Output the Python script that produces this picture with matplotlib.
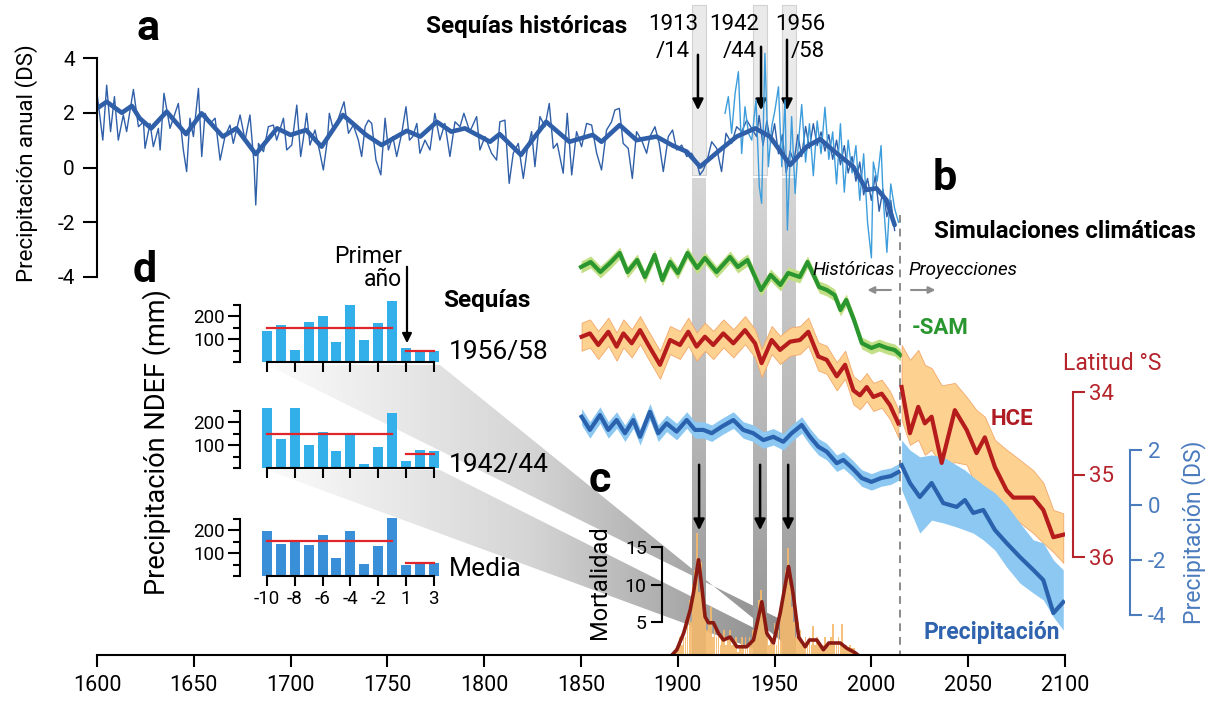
import numpy as np
import matplotlib
matplotlib.use('Agg')
import matplotlib.pyplot as plt
from matplotlib.patches import Polygon, Rectangle
from matplotlib.colors import LinearSegmentedColormap

plt.rcParams['font.family'] = ['Roboto', 'DejaVu Sans']
plt.rcParams['axes.unicode_minus'] = False

# ---------------- DATA ----------------
# Panel a: annual precipitation reconstruction (DS)
recon_year = [1600.0, 1603.0, 1605.0, 1607.0, 1609.0, 1611.0, 1613.6, 1615.3, 1618.8, 1621.4, 1624.0, 1624.8,
              1627.4, 1629.1, 1631.7, 1632.6, 1634.6, 1637.7, 1642.0, 1644.6, 1646.3, 1648.0, 1649.8, 1652.4,
              1654.1, 1655.8, 1658.4, 1661.0, 1663.6, 1666.1, 1668.7, 1670.4, 1673.9, 1676.5, 1679.0, 1681.1,
              1682.0, 1683.4, 1686.0, 1688.5, 1691.1, 1692.8, 1696.3, 1698.0, 1700.6, 1703.2, 1705.2, 1706.6,
              1708.3, 1710.0, 1712.6, 1715.2, 1716.9, 1719.0, 1720.0, 1722.1, 1724.7, 1727.6, 1729.9, 1732.4,
              1735.0, 1736.7, 1738.5, 1740.2, 1741.9, 1744.1, 1746.6, 1748.8, 1750.5, 1752.8, 1754.8, 1757.4,
              1759.6, 1761.4, 1763.1, 1765.2, 1766.8, 1769.4, 1772.0, 1774.5, 1777.1, 1779.7, 1782.3, 1784.9,
              1787.5, 1789.5, 1792.6, 1796.1, 1797.8, 1800.4, 1803.8, 1806.4, 1808.1, 1810.7, 1812.9, 1815.0,
              1817.6, 1820.2, 1822.2, 1824.5, 1826.2, 1828.8, 1831.4, 1833.6, 1835.7, 1837.7, 1840.8, 1842.9,
              1845.2, 1847.7, 1850.3, 1852.9, 1855.5, 1858.1, 1860.6, 1863.2, 1865.8, 1867.5, 1869.8, 1871.8,
              1874.4, 1876.5, 1878.7, 1881.3, 1883.9, 1885.6, 1888.2, 1890.4, 1892.5, 1895.1, 1897.3, 1899.4,
              1902.0, 1904.6, 1907.1, 1909.7, 1911.4, 1913.2, 1915.2, 1917.5, 1920.1, 1922.6, 1924.9, 1927.8,
              1930.4, 1933.0, 1935.6, 1938.1, 1940.7, 1942, 1944, 1946, 1948, 1950, 1952, 1954, 1956, 1958,
              1960, 1962, 1964, 1966, 1968, 1970, 1972, 1974, 1976, 1978, 1980, 1982, 1984, 1986, 1988, 1990,
              1992, 1994, 1996, 1998, 2000, 2002, 2004, 2006, 2008, 2010, 2012]
recon_val = [2.71, 1.00, 3.01, 1.31, 2.59, 1.00, 1.92, 1.31, 2.85, 1.49, 1.67, 0.70,
             1.61, 0.76, 1.43, 0.64, 2.71, 1.43, 2.34, 0.64, -0.15, 1.80, 1.13, 2.89,
             0.40, 1.98, 1.61, 1.80, 0.27, 1.13, 1.55, 0.88, 1.92, 1.00, 1.92, 0.15,
             -1.37, 0.88, 0.58, 1.49, 1.55, 1.00, 1.80, 0.64, 0.82, 2.28, 0.40, 1.06,
             1.98, 0.82, 1.37, 0.52, -0.09, 1.00, 1.98, 1.37, 1.80, 2.40, 1.25, 1.55,
             1.00, 0.40, 1.49, 1.73, 1.61, 0.27, -0.27, 1.80, 0.64, 1.13, 0.40, 1.25,
             2.22, 1.00, 1.13, 1.61, 0.52, 1.00, 0.64, 1.98, 1.00, 1.61, 0.40, 1.67,
             1.49, 1.98, 1.31, 1.86, 0.64, 1.13, 0.52, 0.27, 1.67, 1.73, -0.58, 0.52,
             0.88, -0.40, 0.64, 1.31, 0.03, 1.86, 1.49, 2.34, 0.70, 0.88, -0.21, 1.98,
             -0.27, 1.31, 0.76, 1.61, 1.55, 0.52, -0.09, 1.37, 1.67, 2.10, 2.16, 0.88,
             0.70, -0.40, 1.31, 1.00, 0.52, 1.13, 1.49, 0.88, -0.15, 1.13, 1.37, 0.64,
             0.82, 0.40, 0.52, 0.21, -0.27, -0.09, 0.27, 0.94, 0.70, -0.15, 1.25, 0.88,
             1.49, 1.31, 1.73, 1.43, 1.13, 1.9, 0.8, 1.7, 0.9, 1.6, 0.5, 1.2, -0.2, 0.6,
             0.2, 1.2, 0.4, 1.5, 0.7, 1.6, 0.8, 1.3, 0.6, 1.2, 0.3, 1.0, 0.1, 0.8, -0.2, 0.4,
             -0.5, 0.2, -1.0, -0.4, -1.2, -0.3, -1.6, -0.8, -1.8, -1.2, -2.3]

smooth_year = [1600, 1605, 1612.8, 1618, 1622, 1628, 1636, 1646, 1654, 1665, 1672, 1682, 1693, 1700,
               1708, 1716, 1727, 1739, 1747, 1760, 1767, 1775.5, 1783, 1790, 1803, 1808, 1819, 1832,
               1844, 1856, 1860.6, 1870, 1878.7, 1889, 1897.7, 1904.6, 1911.5, 1921.8, 1930.4, 1940,
               1947.6, 1958, 1966.6, 1973.5, 1980, 1990.6, 1997.5, 2002.6, 2007.8, 2012]
smooth_val = [2.16, 2.40, 2.00, 2.25, 1.80, 1.43, 2.04, 1.22, 1.98, 1.13, 1.43, 0.49, 1.43, 1.19,
              1.37, 0.76, 1.92, 1.19, 0.82, 1.34, 1.13, 1.67, 1.31, 1.43, 0.94, 1.22, 0.46, 1.67,
              0.94, 1.19, 0.94, 1.55, 1.00, 1.13, 0.79, 0.58, 0.03, 0.64, 1.13, 1.43,
              1.13, 0.09, 0.76, 1.04, 0.64, 0.03, -0.82, -0.76, -1.19, -2.10]

instr_year = [1924.4, 1926.1, 1927.8, 1929.6, 1931.3, 1933.0, 1934.7, 1936.5, 1938.2, 1940.4, 1942.1, 1943.3,
              1945.0, 1946.8, 1948.5, 1950.2, 1952.0, 1953.7, 1955.4, 1956.6, 1958.8, 1960.6, 1962.3, 1964,
              1966, 1968, 1970, 1972, 1974, 1976, 1978, 1980, 1982, 1984, 1986, 1988, 1990, 1992, 1994,
              1996, 1998, 2000, 2001, 2003, 2005, 2006, 2008, 2010, 2012, 2014]
instr_val = [1.98, 2.59, 1.25, 2.71, 3.50, 0.51, 2.22, 1.25, 1.00, 2.47, -0.70, -1.31,
             4.17, 0.03, 1.49, 2.10, 2.95, 0.03, 2.47, -2.29, 1.86, -0.95, 0.88, 2.3,
             0.2, 1.6, -0.3, 1.7, 0.5, 2.2, 0.3, 1.3, -0.6, 1.6, -0.9, 1.0, -0.2, 0.8, -1.2,
             0.5, -2.0, -3.3, 0.2, -0.5, 0.8, -1.0, -3.1, -0.6, -1.5, -2.0]

drought_years = [1911, 1942.4, 1957.4]
drought_arrow = [1910.4, 1943.0, 1956.4]
drought_labels = [("1913", "/14"), ("1942", "/44"), ("1956", "/58")]

# Panel b: climate simulations (historical 1850-2014, projections 2015-2100)
sam_year = [1850, 1855, 1860, 1865, 1870, 1874, 1879, 1883, 1888, 1892, 1896, 1900, 1905, 1910, 1914,
            1920, 1927, 1931, 1936, 1943, 1948, 1953, 1957, 1963, 1967, 1973, 1977, 1981, 1984, 1987,
            1991, 1995, 2000, 2004, 2008, 2012, 2015]
sam_val = [1.32, 1.52, 1.12, 1.48, 1.88, 1.12, 1.60, 0.92, 1.80, 0.80, 1.52, 1.08, 1.88, 1.28, 1.68,
           1.12, 1.72, 1.32, 1.60, 0.40, 1.00, 0.60, 1.08, 0.92, 1.52, 0.52, 0.40, 0.20, -0.40, 0.00,
           -0.80, -1.72, -1.92, -1.80, -1.92, -2.00, -2.20]
sam_spread = 0.24

hce_year = [1850.3, 1854.6, 1858.9, 1864.1, 1868.4, 1871.9, 1876.2, 1880.5, 1884.8, 1890.8, 1896.0,
            1901.1, 1905.4, 1909.7, 1914.0, 1918.3, 1923.5, 1928.7, 1934.7, 1939.9, 1943.3, 1948.5,
            1952.8, 1958.0, 1963.1, 1967.4, 1972.6, 1976.9, 1982.1, 1986.4, 1990.7, 1994.1, 1997.6,
            2001.0, 2005.3, 2009.6, 2013.9]
hce_lat = [33.33, 33.29, 33.43, 33.27, 33.45, 33.29, 33.41, 33.25, 33.43, 33.67, 33.37,
           33.43, 33.27, 33.45, 33.33, 33.43, 33.29, 33.41, 33.25, 33.41, 33.65, 33.37,
           33.49, 33.39, 33.37, 33.27, 33.57, 33.61, 33.81, 33.67, 33.98, 34.04, 33.94,
           34.06, 34.02, 34.16, 34.38]
hce_spread = 0.17

hce_proj_year = [2015.6, 2019.9, 2024.2, 2027.6, 2031.1, 2036.3, 2043.1, 2049.2, 2054.3, 2058.6,
                 2063.8, 2069.8, 2073.3, 2083.6, 2088.8, 2094.0, 2099.1]
hce_proj_lat = [33.94, 34.50, 34.18, 34.38, 34.30, 34.86, 34.22, 34.46, 34.74, 34.55,
                34.91, 35.19, 35.28, 35.28, 35.43, 35.76, 35.73]
hce_proj_hi = [33.43, 33.61, 33.49, 33.67, 33.71, 33.92, 33.89, 34.06, 34.22, 34.30,
               34.58, 34.70, 34.76, 34.95, 35.10, 35.43, 35.47]
hce_proj_lo = [34.34, 34.64, 34.58, 34.76, 34.70, 34.91, 34.85, 34.88, 35.16, 35.19,
               35.31, 35.45, 35.52, 35.71, 35.83, 35.94, 36.07]

pr_year = [1850.3, 1854.6, 1859.8, 1864.1, 1868.4, 1872.7, 1877.0, 1880.5, 1885.6, 1889.9, 1894.2,
           1899.4, 1904.6, 1908.9, 1913.2, 1917.5, 1922.7, 1928.7, 1933.8, 1939.0, 1944.2, 1949.3,
           1954.5, 1958.8, 1964.0, 1968.3, 1972.6, 1976.9, 1982.1, 1985.5, 1990, 1995, 2000, 2005,
           2010, 2014]
pr_val = [3.21, 2.73, 3.27, 2.73, 3.09, 2.61, 3.09, 2.48, 3.39, 2.61, 2.97,
          2.67, 3.09, 2.73, 2.73, 2.61, 2.85, 3.09, 2.73, 2.61, 2.36, 2.48,
          2.30, 2.61, 2.91, 2.48, 2.12, 1.94, 1.52, 1.64, 1.35, 0.98, 0.84, 0.98,
          1.05, 1.20]
pr_spread = 0.3

pr_proj_year = [2015.6, 2019.9, 2025.0, 2031.1, 2037.1, 2044.0, 2048.3, 2052.6, 2057.8, 2063.8,
                2069.8, 2076.7, 2083.6, 2088.8, 2094.0, 2099.1]
pr_proj_val = [1.45, 0.80, 0.29, 0.80, 0.07, -0.07, 0.18, -0.29, -0.18, -0.91,
               -1.38, -1.89, -2.36, -2.73, -3.93, -3.53]
pr_proj_hi = [2.36, 2.00, 1.75, 1.82, 1.75, 1.45, 1.27, 1.02, 0.73, 0.44,
              0.00, -0.65, -1.27, -1.38, -2.00, -2.36]
pr_proj_lo = [0.55, -0.18, -1.02, -0.55, -0.65, -0.80, -0.91, -1.02, -1.27, -1.64,
              -2.25, -2.84, -3.20, -3.45, -4.07, -4.55]

# Panel c: tree mortality
mort_bar_year = list(range(1899, 1993))
mort_bar_val = [1.5, 2, 3, 2, 4, 3, 6, 8, 5, 10, 12, 16.9, 9, 13, 7, 6, 4, 5, 7, 3, 5, 3, 4, 2, 3, 4, 2,
                3, 4, 2, 2, 3, 1, 2, 3, 2, 3, 2, 3, 2, 4, 3, 5, 8, 9.3, 6, 4, 3, 2, 3, 2, 4.9, 2, 4, 6,
                7, 10, 12, 14.9, 10, 7, 5, 3, 5, 4, 2, 2, 3, 2, 3, 2, 4.5, 2, 3, 2, 1.5, 2, 3, 2, 2, 3,
                4.8, 2, 2, 3, 2, 4.8, 2, 2, 1.5, 2, 1.5, 1.5, 1]
mort_year = [1897, 1899.5, 1903, 1906.4, 1908.1, 1910.7, 1912.4, 1914.1, 1915.8, 1918.4, 1921, 1923.6,
             1927, 1930.5, 1935.6, 1939.1, 1943.4, 1946, 1949.4, 1952.9, 1957.2, 1959.8, 1962.4,
             1965.8, 1968, 1971.8, 1975.2, 1978, 1980.4, 1983.9, 1987.3, 1991.6, 1993]
mort_val = [0.6, 1.3, 3.5, 6.6, 8.9, 13.3, 9.7, 5.7, 4.9, 4.9, 3.5, 2.6,
            3.0, 1.7, 1.7, 2.6, 7.7, 3.5, 2.2, 6.2, 12.4, 8.4, 3.0,
            1.7, 2.6, 2.6, 1.3, 2.2, 2.2, 2.2, 1.5, 0.9, 0.6]

# Panel d: NDEF precipitation (mm) around droughts
d_ticklabels = ["-10", "-8", "-6", "-4", "-2", "1", "3"]
d_names = ["1956/58", "1942/44", "Media"]
d_bars = [
    [135, 159, 54, 174, 199, 87, 249, 94, 171, 271, 61, 54, 46],
    [261, 128, 261, 101, 155, 75, 148, 19, 91, 239, 29, 78, 72],
    [194, 141, 155, 136, 177, 80, 194, 54, 129, 254, 46, 62, 58],
]
d_pre_mean = [149, 149, 152]
d_post_mean = [48, 59, 55]

# ---------------- FIGURE ----------------
W, H = 1217, 702
fig = plt.figure(figsize=(W / 100, H / 100), dpi=100)
X0, X1 = 97, 1065
PT = 0.72  # points per pixel


def fx(px):
    return px / W


def fy(py):
    return 1 - py / H


def overlay(v1, y1, v2, y2, z):
    ax = fig.add_axes([fx(X0), 0, (X1 - X0) / W, 1], zorder=z)
    ax.set_xlim(1600, 2100)
    s = (v2 - v1) / (y2 - y1)
    ax.set_ylim(v1 + (H - y1) * s, v1 + (0 - y1) * s)
    ax.patch.set_visible(False)
    for sp in ax.spines.values():
        sp.set_visible(False)
    ax.set_xticks([])
    ax.set_yticks([])
    return ax


def txt(x, y, s, size, **kw):
    kw.setdefault('ha', 'center')
    kw.setdefault('va', 'center')
    return fig.text(fx(x), fy(y), s, fontsize=size, **kw)


# pixel canvas for connector wedges
ax_pix = fig.add_axes([0, 0, 1, 1], zorder=0)
ax_pix.set_xlim(0, W)
ax_pix.set_ylim(H, 0)
ax_pix.axis('off')

wedge_cmap = LinearSegmentedColormap.from_list('w', ['#fbfbfb', '#d5d5d5', '#8a8a8a'])
grad = np.linspace(0, 1, 256).reshape(1, -1)
for poly in ([(267, 365), (440, 365), (790, 648), (786, 622)],
             [(267, 470), (440, 470), (762, 632), (760, 651)]):
    pg = Polygon(poly, closed=True, facecolor='none', edgecolor='none')
    ax_pix.add_patch(pg)
    im = ax_pix.imshow(grad, extent=(267, 792, 655, 360), cmap=wedge_cmap, aspect='auto', zorder=0)
    im.set_clip_path(pg)
ax_pix.set_xlim(0, W)
ax_pix.set_ylim(H, 0)

# background: drought bands (years on x, pixels on y)
ax_bg = overlay(0, 0, H, H, 1)
band_cmap = LinearSegmentedColormap.from_list('b', ['#d6d6d6', '#b8b8b8', '#929292'])
vgrad = np.linspace(0, 1, 256).reshape(-1, 1)
for yr in drought_years:
    ax_bg.add_patch(Rectangle((yr - 3.6, 5), 7.2, 170, facecolor='#eaeaea', edgecolor='#d2d2d2', lw=0.8))
    ax_bg.imshow(vgrad, extent=(yr - 3.6, yr + 3.6, 655, 178), cmap=band_cmap, aspect='auto')
ax_bg.set_xlim(1600, 2100)
ax_bg.set_ylim(H, 0)
# historical / projection divider
ax_bg.plot([2015, 2015], [215, 655], ls=(0, (4, 3)), color='#8a8a8a', lw=1.4)
ax_bg.annotate('', xy=(1996.5, 290), xytext=(2011.5, 290),
               arrowprops=dict(arrowstyle='-|>', color='#8c8c8c', lw=1.5, mutation_scale=10))
ax_bg.annotate('', xy=(2034.5, 290), xytext=(2019, 290),
               arrowprops=dict(arrowstyle='-|>', color='#8c8c8c', lw=1.5, mutation_scale=10))
# drought arrows (top and panel c)
for (ys, ye), xs in zip([(52, 113), (44, 113), (37, 113)], drought_arrow):
    ax_bg.annotate('', xy=(xs, ye), xytext=(xs, ys),
                   arrowprops=dict(arrowstyle='-|>', color='k', lw=1.8, mutation_scale=16))
for xs in [1911.0, 1942.5, 1957.0]:
    ax_bg.annotate('', xy=(xs, 533), xytext=(xs, 462),
                   arrowprops=dict(arrowstyle='-|>', color='k', lw=1.8, mutation_scale=16))

# ---------------- Panel a ----------------
ax_a = overlay(4, 58, -4, 277, 3)
ax_a.plot(recon_year, recon_val, color='#2f5fa8', lw=1.0)
ax_a.plot(instr_year, instr_val, color='#3d9ddc', lw=1.0)
ax_a.plot(smooth_year, smooth_val, color='#2f5fa8', lw=3.3, solid_joinstyle='round', solid_capstyle='round')
ax_a.spines['left'].set_visible(True)
ax_a.spines['left'].set_bounds(-4, 4)
ax_a.spines['left'].set_linewidth(1.5)
ax_a.set_yticks([-4, -2, 0, 2, 4])
ax_a.tick_params(axis='y', length=14 * PT, width=1.5, labelsize=15, pad=6)

# ---------------- Panel b ----------------
ax_sam = overlay(0, 300, 1, 275, 3)
ax_sam.fill_between(sam_year, np.array(sam_val) - sam_spread, np.array(sam_val) + sam_spread,
                    color='#c2df86', lw=0)
ax_sam.plot(sam_year, sam_val, color='#2a962f', lw=3.0, solid_joinstyle='round')

ax_hce = overlay(34, 392, 36, 557, 3)
ax_hce.fill_between(hce_year, np.array(hce_lat) - hce_spread, np.array(hce_lat) + hce_spread,
                    color='#fdd291', lw=0.6, edgecolor='#f3a76a')
ax_hce.fill_between(hce_proj_year, hce_proj_hi, hce_proj_lo, color='#fdd291', lw=0.6, edgecolor='#f3a76a')

ax_pr = overlay(2, 450, -4, 615, 4)
ax_pr.fill_between(pr_year, np.array(pr_val) - pr_spread, np.array(pr_val) + pr_spread,
                   color='#8cc8f2', lw=0)
ax_pr.fill_between(pr_proj_year, pr_proj_lo, pr_proj_hi, color='#8cc8f2', lw=0)
ax_pr.plot(pr_year, pr_val, color='#2a62ae', lw=3.0, solid_joinstyle='round')
ax_pr.plot(pr_proj_year, pr_proj_val, color='#2a62ae', lw=3.0, solid_joinstyle='round')

ax_hce2 = overlay(34, 392, 36, 557, 5)
ax_hce2.plot(hce_year, hce_lat, color='#b71c1c', lw=3.0, solid_joinstyle='round')
ax_hce2.plot(hce_proj_year, hce_proj_lat, color='#b71c1c', lw=3.0, solid_joinstyle='round')

red = '#b5232b'
blue = '#4a7bbd'
ax_hce.spines['right'].set_visible(True)
ax_hce.spines['right'].set_position(('outward', 8 * PT))
ax_hce.spines['right'].set_bounds(34, 36)
ax_hce.spines['right'].set_color(red)
ax_hce.spines['right'].set_linewidth(1.5)
ax_hce.yaxis.set_ticks_position('right')
ax_hce.set_yticks([34, 35, 36])
ax_hce.tick_params(axis='y', colors=red, length=12 * PT, width=1.5, labelsize=16, pad=3)

ax_pr.spines['right'].set_visible(True)
ax_pr.spines['right'].set_position(('outward', 65 * PT))
ax_pr.spines['right'].set_bounds(-4, 2)
ax_pr.spines['right'].set_color(blue)
ax_pr.spines['right'].set_linewidth(1.5)
ax_pr.yaxis.set_ticks_position('right')
ax_pr.set_yticks([-4, -2, 0, 2])
ax_pr.tick_params(axis='y', colors=blue, length=12 * PT, width=1.5, labelsize=16, pad=4)

# ---------------- Panel c + main x axis ----------------
ax_c = fig.add_axes([fx(X0), fy(655), (X1 - X0) / W, 655 / H], zorder=6)
ax_c.patch.set_visible(False)
ax_c.set_xlim(1600, 2100)
ax_c.set_ylim(0.6, (659.5 - 0) / 7.5)
ax_c.bar(mort_bar_year, mort_bar_val, width=0.9, color='#f4b96c', alpha=0.9, lw=0)
ax_c.plot(mort_year, mort_val, color='#8b1a12', lw=2.6, solid_joinstyle='round')
for s in ['top', 'right']:
    ax_c.spines[s].set_visible(False)
ax_c.spines['bottom'].set_linewidth(1.5)
ax_c.spines['left'].set_position(('data', 1891.8))
ax_c.spines['left'].set_bounds(5, 15)
ax_c.spines['left'].set_linewidth(1.5)
ax_c.set_yticks([5, 10, 15])
ax_c.tick_params(axis='y', length=11 * PT, width=1.5, labelsize=14, pad=3)
ax_c.set_xticks(np.arange(1600, 2101, 50))
ax_c.tick_params(axis='x', length=12 * PT, width=1.5, labelsize=15.5, pad=6)

# ---------------- Panel d ----------------
bases = [362, 468, 576]
colors_d = ['#33b0e9', '#33b0e9', '#3a8fd9']
for k in range(3):
    ax = fig.add_axes([fx(240), fy(bases[k]), 202 / W, 265 * 0.23 / H], zorder=7)
    ax.patch.set_visible(False)
    idx = np.arange(13)
    ax.bar(idx, d_bars[k], width=0.72, color=colors_d[k])
    ax.plot([0, 9], [d_pre_mean[k]] * 2, color='#e0262b', lw=1.6)
    ax.plot([10, 12], [d_post_mean[k]] * 2, color='#e0262b', lw=1.6)
    ax.set_xlim(-1.94, 12.6)
    ax.set_ylim(0, 265)
    ax.spines['top'].set_visible(False)
    ax.spines['right'].set_visible(False)
    ax.spines['left'].set_bounds(0, 250)
    ax.spines['bottom'].set_bounds(0, 12)
    ax.spines['left'].set_linewidth(1.5)
    ax.spines['bottom'].set_linewidth(1.5)
    ax.set_yticks([100, 200])
    ax.set_yticks([0, 50, 150, 250], minor=True)
    ax.tick_params(axis='y', which='major', length=12 * PT, width=1.5, labelsize=13.5, pad=2)
    ax.tick_params(axis='y', which='minor', length=7 * PT, width=1.5)
    ax.set_xticks(idx[::2])
    ax.tick_params(axis='x', length=10 * PT, width=1.5, labelsize=13.5, pad=3)
    if k == 2:
        ax.set_xticklabels(d_ticklabels)
    else:
        ax.set_xticklabels([])

# ---------------- Text ----------------
bold = dict(fontweight='bold')
txt(148, 28, 'a', 31, **bold)
txt(945, 178, 'b', 31, **bold)
txt(600, 480, 'c', 31, **bold)
txt(145, 270, 'd', 31, **bold)

txt(527, 27, 'Sequías históricas', 17.5, **bold)
for (l1, l2), cx1, cx2 in zip(drought_labels, [673, 734, 800], [673, 740, 808]):
    txt(cx1, 25, l1, 16)
    txt(cx2, 52, l2, 16)

txt(27, 163, 'Precipitación anual (DS)', 16, rotation=90)
txt(157, 442, 'Precipitación NDEF (mm)', 19.5, rotation=90)
txt(599, 582, 'Mortalidad', 17, rotation=90)
txt(1194, 532, 'Precipitación (DS)', 16.5, rotation=90, color=blue)

txt(402, 268, 'Primer\naño', 16.5, ha='right', multialignment='right', linespacing=0.95)
ax_pix.annotate('', xy=(407, 346), xytext=(407, 264),
                arrowprops=dict(arrowstyle='-|>', color='k', lw=1.6, mutation_scale=14))
txt(487, 300, 'Sequías', 17.5, **bold)
for name, y in zip(d_names, [352, 465, 569]):
    txt(449, y, name, 19, ha='left')

txt(1065, 232, 'Simulaciones climáticas', 17.3, **bold)
txt(895, 270, 'Históricas', 13.5, ha='right', style='italic')
txt(908, 270, 'Proyecciones', 13.5, ha='left', style='italic')
txt(940, 328, '-SAM', 16, color='#2a962f', **bold)
txt(1012, 419, 'HCE', 16, color='#b01c24', **bold)
txt(1112, 364, 'Latitud °S', 16.5, color=red)
txt(992, 632, 'Precipitación', 16.5, color='#2f63ae', **bold)

fig.savefig('out.png', dpi=100)
